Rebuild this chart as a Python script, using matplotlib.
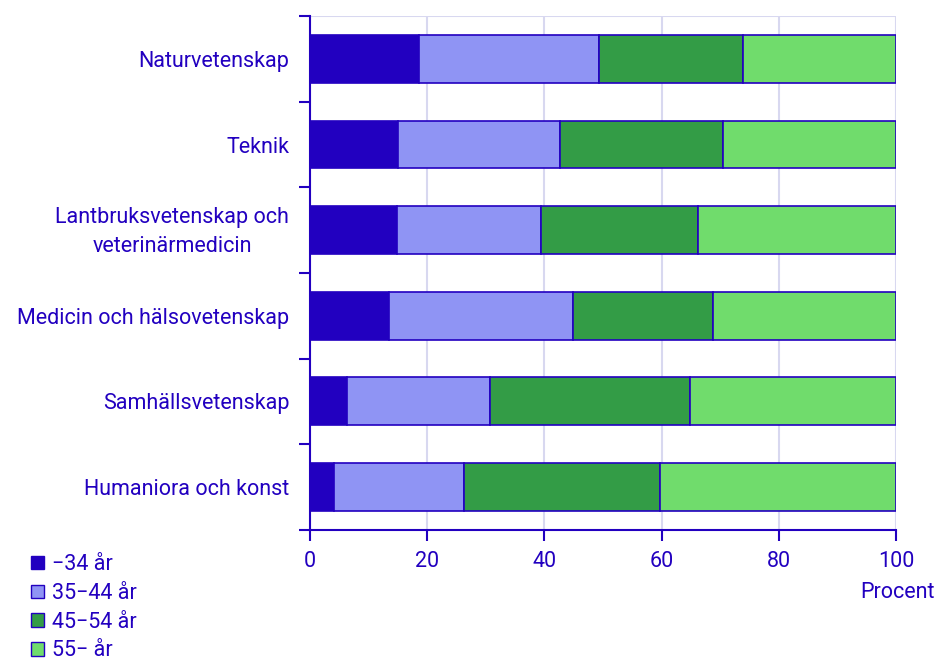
import matplotlib.pyplot as plt
import matplotlib.transforms as mtransforms
import numpy as np
from matplotlib.patches import Patch

plt.rcParams['font.family'] = ['Roboto', 'DejaVu Sans']

categories = ["Naturvetenskap", "Teknik", "Lantbruksvetenskap och\nveterinärmedicin",
              "Medicin och hälsovetenskap", "Samhällsvetenskap", "Humaniora och konst"]
age_groups = ["\u221234 år", "35\u221244 år", "45\u221254 år", "55\u2212 år"]
# shares in percent
under34 = [18.6, 15.0, 14.8, 13.5, 6.3, 4.1]
age35_44 = [30.7, 27.7, 24.6, 31.4, 24.4, 22.2]
age45_54 = [24.6, 27.8, 26.8, 23.9, 34.1, 33.4]
over55 = [26.1, 29.5, 33.8, 31.2, 35.2, 40.3]

colors = ["#2200C0", "#8F94F4", "#339C46", "#70DC6C"]
txt = "#2200C0"
fs = 15.5

fig = plt.figure(figsize=(9.43, 6.59), dpi=100)
ax = fig.add_axes([0.3287, 0.1958, 0.6214, 0.7799])

y = np.arange(len(categories))[::-1]
left = np.zeros(len(categories))
for vals, c in zip([under34, age35_44, age45_54, over55], colors):
    ax.barh(y, vals, left=left, height=0.56, color=c, edgecolor=txt, linewidth=1.2, zorder=3)
    left += np.array(vals)

ax.set_xlim(0, 100)
ax.set_ylim(-0.5, len(categories) - 0.5)
ax.set_xticks([0, 20, 40, 60, 80, 100])
ax.set_yticks(y)
ax.set_yticklabels(categories, color=txt, fontsize=fs, ha='right', multialignment='center',
                   linespacing=1.5)
ax.tick_params(axis='y', length=0, pad=15)
ax.set_yticks(np.arange(-0.5, len(categories)), minor=True)
ax.tick_params(axis='y', which='minor', length=8, width=1.5, color=txt)
ax.tick_params(axis='x', length=8, width=1.5, color=txt, labelcolor=txt, labelsize=fs, pad=7)

# nudge the two-line label up a bit
for lab in ax.get_yticklabels():
    if "\n" in lab.get_text():
        lab.set_transform(lab.get_transform() +
                          mtransforms.ScaledTranslation(0, 5 / 100, fig.dpi_scale_trans))

ax.grid(axis='x', color="#D8D8F0", linewidth=1.5, zorder=0)
ax.axhline(len(categories) - 0.5, color="#D8D8F0", linewidth=1.5, zorder=0)
for s in ['top', 'right']:
    ax.spines[s].set_visible(False)
for s in ['left', 'bottom']:
    ax.spines[s].set_color(txt)
    ax.spines[s].set_linewidth(1.5)

fig.text(0.9915, 1 - 592 / 659, "Procent", color=txt, fontsize=fs, ha='right', va='center')

handles = [Patch(facecolor=c, edgecolor=txt, linewidth=1) for c in colors]
fig.legend(handles, age_groups, loc='upper left', bbox_to_anchor=(0.033, 0.159),
           frameon=False, fontsize=fs, labelcolor=txt, handlelength=0.6, handleheight=0.6,
           handletextpad=0.35, labelspacing=0.36, borderpad=0, borderaxespad=0)

fig.savefig("out.png", dpi=100)
